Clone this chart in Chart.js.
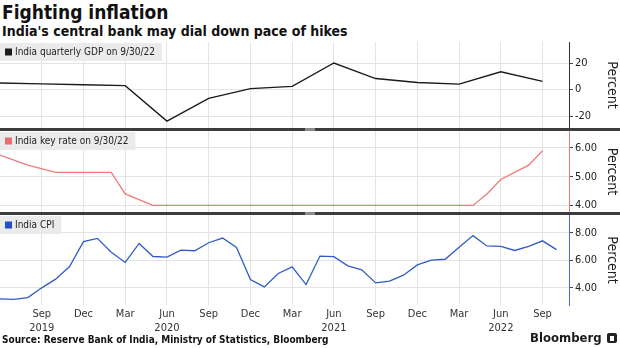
<!DOCTYPE html>
<html>
<head>
<meta charset="utf-8">
<script src="https://cdn.jsdelivr.net/npm/chart.js@4.4.0/dist/chart.umd.min.js"></script>
<style>
  body {
    margin: 0;
    width: 620px;
    height: 348px;
    position: relative;
    overflow: hidden;
    background: #fff;
    color: #111;
    font-family: "DejaVu Sans Condensed", "DejaVu Sans", sans-serif;
  }
  #title { position: absolute; left: 2px; top: 1px; font-size: 19px; font-weight: bold; line-height: 22px; }
  #subtitle { position: absolute; left: 2px; top: 23px; font-size: 14px; font-weight: bold; line-height: 17px; }
  .panel { position: absolute; left: 0; }
  .sep { position: absolute; left: 0; width: 620px; height: 3px; background: #3d3d3d; }
  .sep span { position: absolute; left: 305px; top: 0; width: 10px; height: 3px; background: #8a8a8a; }
  #source { position: absolute; left: 2px; top: 333px; font-size: 10px; font-weight: bold; line-height: 13px; }
  #brand { position: absolute; left: 530px; top: 330px; font-size: 13px; font-weight: bold; line-height: 16px; color: #1a1a1a; }
  #logo { position: absolute; left: 607px; top: 333px; width: 10px; height: 10px; background: #222; border-radius: 2px; }
  #logo span { position: absolute; left: 3px; top: 3px; width: 4px; height: 5px; background: #fff; }
</style>
</head>
<body>
<div id="title">Fighting inflation</div>
<div id="subtitle">India's central bank may dial down pace of hikes</div>

<div class="panel" style="top:42px"><canvas id="gdpChart" width="620" height="86"></canvas></div>
<div class="sep" style="top:128px"><span></span></div>
<div class="panel" style="top:131px"><canvas id="rateChart" width="620" height="81"></canvas></div>
<div class="sep" style="top:212px"><span></span></div>
<div class="panel" style="top:215px"><canvas id="cpiChart" width="620" height="120"></canvas></div>

<div id="source">Source: Reserve Bank of India, Ministry of Statistics, Bloomberg</div>
<div id="brand">Bloomberg</div>
<div id="logo"><span></span></div>

<script>
// months counted from Jan 2019 = 0
const xTickMonths = [8, 11, 14, 17, 20, 23, 26, 29, 32, 35, 38, 41, 44];
const xTickNames = ['Sep', 'Dec', 'Mar', 'Jun', 'Sep', 'Dec', 'Mar', 'Jun', 'Sep', 'Dec', 'Mar', 'Jun', 'Sep'];
const xTickYears = ['2019', '', '', '2020', '', '', '', '2021', '', '', '', '2022', ''];

// India quarterly GDP, % y/y
const gdpMonths = [5, 8, 11, 14, 17, 20, 23, 26, 29, 32, 35, 38, 41, 44];
const gdpValues = [5.0, 4.3, 3.7, 3.0, -23.8, -6.6, 0.7, 2.5, 20.1, 8.4, 5.4, 4.1, 13.5, 6.3];
const gdpTicks = [-20, 0, 20];

// India key (repo) rate, %
const rateMonths = [5, 7, 9, 13, 14, 16, 39, 40, 41, 43, 44];
const rateValues = [5.75, 5.4, 5.15, 5.15, 4.4, 4.0, 4.0, 4.4, 4.9, 5.4, 5.9];
const rateTicks = [4, 5, 6];

// India CPI, % y/y, monthly from Jun 2019
const cpiStartMonth = 5;
const cpiValues = [
  3.18, 3.15, 3.28, 3.99, 4.62, 5.54, 7.35,
  7.59, 6.58, 5.84, 7.22, 6.27, 6.23, 6.73, 6.69, 7.27, 7.61, 6.93, 4.59,
  4.06, 5.03, 5.52, 4.23, 6.3, 6.26, 5.59, 5.3, 4.35, 4.48, 4.91, 5.66,
  6.01, 6.07, 6.95, 7.79, 7.04, 7.01, 6.71, 7.0, 7.41, 6.77,
];
const cpiMonths = cpiValues.map((v, i) => cpiStartMonth + i);
const cpiTicks = [4, 6, 8];

const FONT = '"DejaVu Sans Condensed", "DejaVu Sans", sans-serif';
const GRID = '#e4e4e4';

// grey legend box in the top left corner of each panel
const legendBoxPlugin = {
  id: 'legendBox',
  afterDraw(chart, args, opts) {
    const { ctx, chartArea } = chart;
    ctx.save();
    ctx.font = '10px ' + FONT;
    const w = ctx.measureText(opts.text).width;
    ctx.fillStyle = 'rgba(233, 233, 233, 0.92)';
    ctx.fillRect(chartArea.left, chartArea.top + 1, w + 22, 18);
    ctx.fillStyle = opts.color;
    ctx.fillRect(chartArea.left + 5, chartArea.top + 6.5, 7, 7);
    ctx.fillStyle = '#222';
    ctx.textBaseline = 'middle';
    ctx.fillText(opts.text, chartArea.left + 15, chartArea.top + 10.5);
    ctx.restore();
  },
};

const makePanel = (id, cfg) => {
  const ctx = document.getElementById(id);
  return new Chart(ctx, {
    type: 'line',
    data: {
      datasets: [
        {
          data: cfg.months.map((m, i) => ({ x: m, y: cfg.values[i] })),
          borderColor: cfg.color,
          borderWidth: 1.3,
          pointRadius: 0,
          tension: 0,
          fill: false,
        },
      ],
    },
    options: {
      responsive: false,
      animation: false,
      layout: { padding: 0 },
      plugins: {
        legend: { display: false },
        tooltip: { enabled: false },
        legendBox: { text: cfg.label, color: cfg.legendColor || cfg.color },
      },
      scales: {
        x: {
          type: 'linear',
          min: 5,
          max: 45.9,
          afterBuildTicks: (scale) => {
            scale.ticks = xTickMonths.map((v) => ({ value: v }));
          },
          afterFit: (scale) => {
            scale.paddingLeft = 0;
            scale.paddingRight = 0;
            if (cfg.showX) scale.height = 30;
          },
          ticks: {
            display: !!cfg.showX,
            autoSkip: false,
            maxRotation: 0,
            padding: 3,
            color: '#333',
            font: { family: FONT, size: 11 },
            callback: (value, index) =>
              xTickYears[index] ? [xTickNames[index], xTickYears[index]] : xTickNames[index],
          },
          grid: { color: GRID, drawTicks: false },
          border: { display: false },
        },
        y: {
          position: 'right',
          min: cfg.min,
          max: cfg.max,
          afterBuildTicks: (scale) => {
            scale.ticks = cfg.ticks.map((v) => ({ value: v }));
          },
          afterFit: (scale) => {
            scale.width = 51;
            scale.paddingTop = 0;
            scale.paddingBottom = 0;
          },
          ticks: {
            padding: 2,
            color: '#222',
            font: { family: FONT, size: 11 },
            callback: cfg.format,
          },
          grid: { color: GRID, tickColor: '#444', tickLength: 4 },
          border: { color: cfg.axisColor, width: 1 },
          title: {
            display: true,
            text: 'Percent',
            color: '#222',
            font: { family: FONT, size: 14 },
            padding: { top: 0, bottom: 0 },
          },
        },
      },
    },
    plugins: [legendBoxPlugin],
  });
};

makePanel('gdpChart', {
  months: gdpMonths,
  values: gdpValues,
  ticks: gdpTicks,
  min: -29,
  max: 36,
  color: '#1a1a1a',
  axisColor: '#333',
  label: 'India quarterly GDP on 9/30/22',
  format: (v) => String(v),
});

makePanel('rateChart', {
  months: rateMonths,
  values: rateValues,
  ticks: rateTicks,
  min: 3.77,
  max: 6.59,
  color: '#f07a7a',
  legendColor: '#f06b6b',
  axisColor: '#f07a7a',
  label: 'India key rate on 9/30/22',
  format: (v) => v.toFixed(2),
});

makePanel('cpiChart', {
  months: cpiMonths,
  values: cpiValues,
  ticks: cpiTicks,
  min: 2.74,
  max: 9.29,
  color: '#2f5cc8',
  legendColor: '#1f4fd0',
  axisColor: '#3a6fd8',
  label: 'India CPI',
  format: (v) => v.toFixed(2),
  showX: true,
});
</script>
</body>
</html>
